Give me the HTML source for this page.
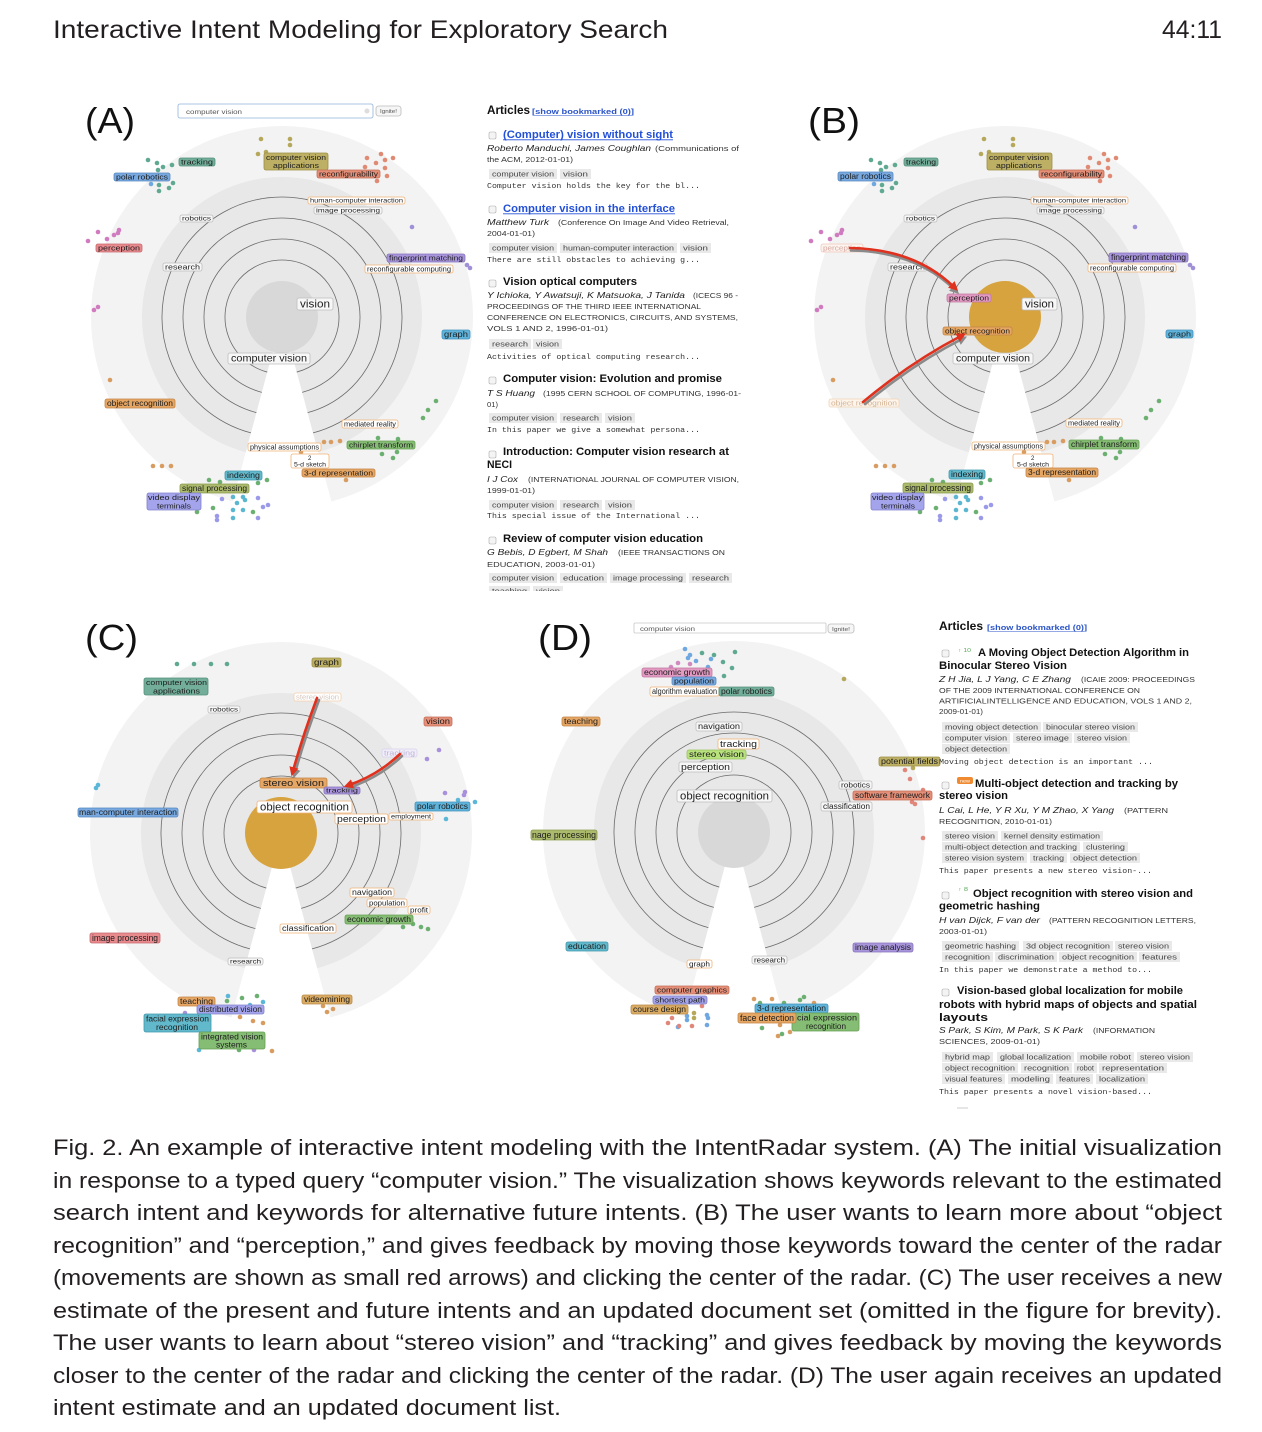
<!DOCTYPE html>
<html><head><meta charset="utf-8">
<style>
html,body{margin:0;padding:0;background:#fff}
svg{display:block}
text{font-family:"Liberation Sans",sans-serif;fill:#1e1e1e}
.mono{font-family:"Liberation Mono",monospace;fill:#333}
.d1{fill:#f3f3f3}.d2{fill:#e8e8e8}.rg{fill:none;stroke:#6a6a6a;stroke-width:.8}
.tl{fill:#72ae99;stroke:#53907b}.bl{fill:#78a9e0;stroke:#5688c0}.ol{fill:#bdb064;stroke:#9c8f44}
.sa{fill:#e58f78;stroke:#c46d58}.pk{fill:#e88a8e;stroke:#c7686c}.pu{fill:#a895dc;stroke:#8673bb}
.b2{fill:#60b4dc;stroke:#4092bc}.or{fill:#e6a664;stroke:#c48444}.gr{fill:#86bd74;stroke:#64a052}
.tb{fill:#62b9cc;stroke:#4298ac}.og{fill:#abba6c;stroke:#8a9a4c}.lv{fill:#a4a4ec;stroke:#8282cc}
.mg{fill:#e39ac2;stroke:#c178a0}.lg{fill:#b8e27c;stroke:#98c25c}.tn{fill:#d9ab64;stroke:#b88a44}
.wo{fill:#fff;stroke:#f0b277}.wg{fill:#f7f7f7;stroke:#bdbdbd}
rect{stroke-width:.8}
.tag{fill:#e9e9e9;stroke:none}
.tg{font-size:7px;fill:#444}
.au{font-size:8.5px;font-style:italic;fill:#222}
.vn{font-size:7px;fill:#333}
.ti{font-size:11px;font-weight:bold;fill:#111}
.tib{font-size:11px;font-weight:bold;fill:#2350d8}
.cb{fill:#f4f4f4;stroke:#aaa;stroke-width:.6}
.cap{font-size:22px;fill:#231f20}
</style></head><body>
<svg width="1262" height="1432" viewBox="0 0 1262 1432" xmlns="http://www.w3.org/2000/svg">
<defs>
<g id="rad">
<path class="d1" d="M0,0 L49.43,184.49 A191,191 0 1 0 -49.43,184.49 Z"/>
<path class="d2" d="M0,0 L36.23,135.23 A140,140 0 1 0 -36.23,135.23 Z"/>
<path class="rg" d="M31.06,115.91 A120,120 0 1 0 -31.06,115.91"/>
<path class="rg" d="M25.62,95.62 A99,99 0 1 0 -25.62,95.62"/>
<path class="rg" d="M20.19,75.34 A78,78 0 1 0 -20.19,75.34"/>
<path class="rg" d="M14.75,55.06 A57,57 0 1 0 -14.75,55.06"/>
</g>
<marker id="ah" viewBox="0 0 10 10" refX="4" refY="5" markerWidth="3.6" markerHeight="3.6" orient="auto" markerUnits="strokeWidth"><path d="M0,0 L10,5 L0,10 z" fill="#e0301e"/></marker>
<marker id="ahs" viewBox="0 0 10 10" refX="4" refY="5" markerWidth="3.6" markerHeight="3.6" orient="auto" markerUnits="strokeWidth"><path d="M0,0 L10,5 L0,10 z" fill="#8a8a8a"/></marker>
<clipPath id="clipA"><rect x="480" y="90" width="270" height="501"/></clipPath>
</defs>

<!-- Header -->
<text x="53" y="38" font-size="25" textLength="615" lengthAdjust="spacingAndGlyphs" style="fill:#231f20">Interactive Intent Modeling for Exploratory Search</text>
<text x="1162" y="38" font-size="25" textLength="60" lengthAdjust="spacingAndGlyphs" style="fill:#231f20">44:11</text>

<!-- ================= PANEL A ================= -->
<text x="85" y="133" font-size="36" textLength="50" lengthAdjust="spacingAndGlyphs" style="fill:#111">(A)</text>
<rect x="178" y="104" width="195" height="14" rx="2" fill="#fff" stroke="#8fb2dc" stroke-width="1.2"/>
<text x="186" y="114" font-size="6.5" textLength="56" lengthAdjust="spacingAndGlyphs" style="fill:#555">computer vision</text>
<circle cx="367" cy="111" r="2.5" fill="#ddd"/>
<rect x="376" y="106" width="25" height="10" rx="2.5" fill="#f6f6f6" stroke="#bbb" stroke-width=".6"/>
<text x="380" y="113" font-size="5" textLength="17" lengthAdjust="spacingAndGlyphs" style="fill:#555">Ignite!</text>
<use href="#rad" x="282" y="317"/>
<circle cx="282" cy="317" r="36" fill="#d8d8d8"/>

<g>
<g fill="#b5a85a"><circle cx="261" cy="139" r="2.3"/><circle cx="290" cy="139" r="2.3"/><circle cx="290" cy="145" r="2.3"/><circle cx="266" cy="152" r="2.3"/><circle cx="258" cy="154" r="2.3"/></g>
<g fill="#e08a74"><circle cx="367" cy="158" r="2.3"/><circle cx="381" cy="154" r="2.3"/><circle cx="393" cy="158" r="2.3"/><circle cx="376" cy="163" r="2.3"/><circle cx="385" cy="160" r="2.3"/><circle cx="365" cy="167" r="2.3"/><circle cx="385" cy="168" r="2.3"/><circle cx="387" cy="176" r="2.3"/><circle cx="377" cy="181" r="2.3"/></g>
<g fill="#5fa892"><circle cx="148" cy="160" r="2.3"/><circle cx="157" cy="163" r="2.3"/><circle cx="163" cy="167" r="2.3"/><circle cx="172" cy="165" r="2.3"/><circle cx="158" cy="170" r="2.3"/><circle cx="168" cy="175" r="2.3"/><circle cx="173" cy="183" r="2.3"/><circle cx="159" cy="185" r="2.3"/><circle cx="169" cy="188" r="2.3"/><circle cx="159" cy="191" r="2.3"/></g>
<circle cx="151" cy="184" r="2.3" fill="#6fa8e0"/>
<g fill="#d07ac0"><circle cx="98" cy="232" r="2.3"/><circle cx="88" cy="241" r="2.3"/><circle cx="107" cy="239" r="2.3"/><circle cx="114" cy="235" r="2.3"/><circle cx="119" cy="230" r="2.3"/><circle cx="118" cy="233" r="2.3"/><circle cx="94" cy="310" r="2.3"/><circle cx="98" cy="307" r="2.3"/></g>
<g fill="#a090d8"><circle cx="412" cy="227" r="2.3"/><circle cx="467" cy="265" r="2.3"/><circle cx="470" cy="268" r="2.3"/></g>
<g fill="#d99c60"><circle cx="110" cy="380" r="2.3"/><circle cx="324" cy="442" r="2.3"/><circle cx="331" cy="442" r="2.3"/><circle cx="340" cy="441" r="2.3"/><circle cx="153" cy="466" r="2.3"/><circle cx="162" cy="466" r="2.3"/><circle cx="171" cy="466" r="2.3"/><circle cx="301" cy="452" r="2.3"/><circle cx="346" cy="480" r="2.3"/></g>
<g fill="#6bb070"><circle cx="436" cy="401" r="2.3"/><circle cx="428" cy="410" r="2.3"/><circle cx="423" cy="418" r="2.3"/><circle cx="378" cy="438" r="2.3"/><circle cx="398" cy="439" r="2.3"/><circle cx="382" cy="454" r="2.3"/><circle cx="397" cy="452" r="2.3"/><circle cx="393" cy="458" r="2.3"/><circle cx="209" cy="480" r="2.3"/><circle cx="220" cy="482" r="2.3"/><circle cx="267" cy="480" r="2.3"/><circle cx="258" cy="483" r="2.3"/><circle cx="197" cy="512" r="2.3"/><circle cx="213" cy="508" r="2.3"/><circle cx="253" cy="512" r="2.3"/></g>
<g fill="#5bb7d0"><circle cx="233" cy="497" r="2.3"/><circle cx="243" cy="497" r="2.3"/><circle cx="245" cy="500" r="2.3"/><circle cx="237" cy="503" r="2.3"/><circle cx="233" cy="510" r="2.3"/><circle cx="243" cy="510" r="2.3"/><circle cx="233" cy="518" r="2.3"/></g>
<g fill="#9a9ae8"><circle cx="222" cy="499" r="2.3"/><circle cx="258" cy="498" r="2.3"/><circle cx="263" cy="507" r="2.3"/><circle cx="268" cy="505" r="2.3"/><circle cx="217" cy="516" r="2.3"/><circle cx="217" cy="520" r="2.3"/><circle cx="258" cy="518" r="2.3"/></g>
</g>

<g>
<rect class="tl" x="179" y="158" width="36" height="8" rx="2"/><text x="181" y="164.3" font-size="7.2" textLength="32" lengthAdjust="spacingAndGlyphs">tracking</text>
<rect class="bl" x="114" y="173" width="56" height="8" rx="2"/><text x="116" y="179.3" font-size="7.2" textLength="52" lengthAdjust="spacingAndGlyphs">polar robotics</text>
<rect class="ol" x="264" y="153" width="64" height="17" rx="2"/><text x="266" y="160" font-size="7" textLength="60" lengthAdjust="spacingAndGlyphs">computer vision</text><text x="273" y="168" font-size="7" textLength="46" lengthAdjust="spacingAndGlyphs">applications</text>
<rect class="sa" x="317" y="170" width="63" height="8" rx="2"/><text x="319" y="176.3" font-size="7.2" textLength="59" lengthAdjust="spacingAndGlyphs">reconfigurability</text>
<rect class="wo" x="308" y="197" width="97" height="7" rx="2"/><text x="310" y="202.6" font-size="6.3" textLength="93" lengthAdjust="spacingAndGlyphs">human-computer interaction</text>
<rect class="wg" x="314" y="207" width="68" height="7" rx="2"/><text x="316" y="212.6" font-size="6.3" textLength="64" lengthAdjust="spacingAndGlyphs">image processing</text>
<rect class="wg" x="180" y="215" width="33" height="7" rx="2"/><text x="182" y="220.6" font-size="6.3" textLength="29" lengthAdjust="spacingAndGlyphs">robotics</text>
<rect class="pk" x="96" y="244" width="46" height="8" rx="2"/><text x="98" y="250.3" font-size="7.2" textLength="42" lengthAdjust="spacingAndGlyphs">perception</text>
<rect class="wg" x="163" y="263" width="39" height="8" rx="2"/><text x="165" y="269.3" font-size="7.2" textLength="35" lengthAdjust="spacingAndGlyphs">research</text>
<rect class="pu" x="387" y="254" width="78" height="8" rx="2"/><text x="389" y="260.3" font-size="7.2" textLength="74" lengthAdjust="spacingAndGlyphs">fingerprint matching</text>
<rect class="wo" x="365" y="265" width="88" height="8" rx="2"/><text x="367" y="271.3" font-size="7.2" textLength="84" lengthAdjust="spacingAndGlyphs">reconfigurable computing</text>
<rect class="wg" x="297" y="298" width="36" height="12" rx="2"/><text x="300" y="307.4" font-size="10.8" textLength="30" lengthAdjust="spacingAndGlyphs">vision</text>
<rect class="b2" x="442" y="330" width="28" height="9" rx="2"/><text x="444" y="337" font-size="8" textLength="24" lengthAdjust="spacingAndGlyphs">graph</text>
<rect class="wg" x="228" y="353" width="82" height="11" rx="2"/><text x="231" y="361.6" font-size="9.8" textLength="76" lengthAdjust="spacingAndGlyphs">computer vision</text>
<rect class="or" x="105" y="399" width="70" height="9" rx="2"/><text x="107" y="406" font-size="8" textLength="66" lengthAdjust="spacingAndGlyphs">object recognition</text>
<rect class="wo" x="342" y="420" width="56" height="8" rx="2"/><text x="344" y="426.3" font-size="7.2" textLength="52" lengthAdjust="spacingAndGlyphs">mediated reality</text>
<rect class="wo" x="248" y="443" width="73" height="8" rx="2"/><text x="250" y="449.3" font-size="7.2" textLength="69" lengthAdjust="spacingAndGlyphs">physical assumptions</text>
<rect class="gr" x="347" y="441" width="68" height="8" rx="2"/><text x="349" y="447.3" font-size="7.2" textLength="64" lengthAdjust="spacingAndGlyphs">chirplet transform</text>
<rect class="wo" x="291" y="454" width="38" height="14" rx="2"/><text x="308" y="460" font-size="6">2</text><text x="294" y="466.5" font-size="6.5" textLength="32" lengthAdjust="spacingAndGlyphs">5-d sketch</text>
<rect class="or" x="302" y="469" width="73" height="8" rx="2"/><text x="304" y="475.3" font-size="7.2" textLength="69" lengthAdjust="spacingAndGlyphs">3-d representation</text>
<rect class="tb" x="225" y="471" width="37" height="9" rx="2"/><text x="227" y="478" font-size="8" textLength="33" lengthAdjust="spacingAndGlyphs">indexing</text>
<rect class="og" x="180" y="484" width="69" height="9" rx="2"/><text x="182" y="491" font-size="8" textLength="65" lengthAdjust="spacingAndGlyphs">signal processing</text>
<rect class="lv" x="147" y="493" width="54" height="17" rx="2"/><text x="148" y="500" font-size="7.5" textLength="52" lengthAdjust="spacingAndGlyphs">video display</text><text x="157" y="508.5" font-size="7.5" textLength="34" lengthAdjust="spacingAndGlyphs">terminals</text>
</g>

<!-- Articles A -->
<g clip-path="url(#clipA)">
<text x="487" y="114" font-size="12" font-weight="bold" textLength="43" lengthAdjust="spacingAndGlyphs" style="fill:#111">Articles</text>
<text x="532" y="114" font-size="7.5" font-weight="bold" textLength="102" lengthAdjust="spacingAndGlyphs" style="fill:#2b54c8">[show bookmarked (0)]</text>
<line x1="535" y1="115.5" x2="631" y2="115.5" stroke="#2b54c8" stroke-width=".6"/>

<rect class="cb" x="489" y="132" width="7" height="7" rx="1.5"/>
<text class="tib" x="503" y="138" textLength="170" lengthAdjust="spacingAndGlyphs">(Computer) vision without sight</text>
<line x1="503" y1="139.8" x2="673" y2="139.8" stroke="#2350d8" stroke-width=".8"/>
<text class="au" x="487" y="151" textLength="164" lengthAdjust="spacingAndGlyphs">Roberto Manduchi, James Coughlan</text>
<text class="vn" x="655" y="151" textLength="84" lengthAdjust="spacingAndGlyphs">(Communications of</text>
<text class="vn" x="487" y="162" textLength="86" lengthAdjust="spacingAndGlyphs">the ACM, 2012-01-01)</text>
<rect class="tag" x="489" y="169" width="68" height="10"/><text class="tg" x="492" y="176.5" textLength="62" lengthAdjust="spacingAndGlyphs">computer vision</text>
<rect class="tag" x="560" y="169" width="31" height="10"/><text class="tg" x="563" y="176.5" textLength="25" lengthAdjust="spacingAndGlyphs">vision</text>
<text class="mono" x="487" y="188" font-size="7.5" textLength="213" lengthAdjust="spacingAndGlyphs">Computer vision holds the key for the bl...</text>

<rect class="cb" x="489" y="206" width="7" height="7" rx="1.5"/>
<text class="tib" x="503" y="212" textLength="172" lengthAdjust="spacingAndGlyphs">Computer vision in the interface</text>
<line x1="503" y1="213.8" x2="675" y2="213.8" stroke="#2350d8" stroke-width=".8"/>
<text class="au" x="487" y="225" textLength="62" lengthAdjust="spacingAndGlyphs">Matthew Turk</text>
<text class="vn" x="558" y="225" textLength="171" lengthAdjust="spacingAndGlyphs">(Conference On Image And Video Retrieval,</text>
<text class="vn" x="487" y="236" textLength="48" lengthAdjust="spacingAndGlyphs">2004-01-01)</text>
<rect class="tag" x="489" y="243" width="68" height="10"/><text class="tg" x="492" y="250.5" textLength="62" lengthAdjust="spacingAndGlyphs">computer vision</text>
<rect class="tag" x="560" y="243" width="117" height="10"/><text class="tg" x="563" y="250.5" textLength="111" lengthAdjust="spacingAndGlyphs">human-computer interaction</text>
<rect class="tag" x="680" y="243" width="31" height="10"/><text class="tg" x="683" y="250.5" textLength="25" lengthAdjust="spacingAndGlyphs">vision</text>
<text class="mono" x="487" y="262" font-size="7.5" textLength="213" lengthAdjust="spacingAndGlyphs">There are still obstacles to achieving g...</text>

<rect class="cb" x="489" y="280" width="7" height="7" rx="1.5"/>
<text class="ti" x="503" y="285" textLength="134" lengthAdjust="spacingAndGlyphs">Vision optical computers</text>
<text class="au" x="487" y="298" textLength="198" lengthAdjust="spacingAndGlyphs">Y Ichioka, Y Awatsuji, K Matsuoka, J Tanida</text>
<text class="vn" x="693" y="298" textLength="45" lengthAdjust="spacingAndGlyphs">(ICECS 96 -</text>
<text class="vn" x="487" y="309" textLength="214" lengthAdjust="spacingAndGlyphs">PROCEEDINGS OF THE THIRD IEEE INTERNATIONAL</text>
<text class="vn" x="487" y="320" textLength="251" lengthAdjust="spacingAndGlyphs">CONFERENCE ON ELECTRONICS, CIRCUITS, AND SYSTEMS,</text>
<text class="vn" x="487" y="331" textLength="121" lengthAdjust="spacingAndGlyphs">VOLS 1 AND 2, 1996-01-01)</text>
<rect class="tag" x="489" y="339" width="42" height="10"/><text class="tg" x="492" y="346.5" textLength="36" lengthAdjust="spacingAndGlyphs">research</text>
<rect class="tag" x="533" y="339" width="29" height="10"/><text class="tg" x="536" y="346.5" textLength="23" lengthAdjust="spacingAndGlyphs">vision</text>
<text class="mono" x="487" y="359" font-size="7.5" textLength="213" lengthAdjust="spacingAndGlyphs">Activities of optical computing research...</text>

<rect class="cb" x="489" y="377" width="7" height="7" rx="1.5"/>
<text class="ti" x="503" y="382" textLength="219" lengthAdjust="spacingAndGlyphs">Computer vision: Evolution and promise</text>
<text class="au" x="487" y="396" textLength="48" lengthAdjust="spacingAndGlyphs">T S Huang</text>
<text class="vn" x="543" y="396" textLength="198" lengthAdjust="spacingAndGlyphs">(1995 CERN SCHOOL OF COMPUTING, 1996-01-</text>
<text class="vn" x="487" y="407" textLength="11" lengthAdjust="spacingAndGlyphs">01)</text>
<rect class="tag" x="489" y="413" width="68" height="10"/><text class="tg" x="492" y="420.5" textLength="62" lengthAdjust="spacingAndGlyphs">computer vision</text>
<rect class="tag" x="560" y="413" width="42" height="10"/><text class="tg" x="563" y="420.5" textLength="36" lengthAdjust="spacingAndGlyphs">research</text>
<rect class="tag" x="605" y="413" width="30" height="10"/><text class="tg" x="608" y="420.5" textLength="24" lengthAdjust="spacingAndGlyphs">vision</text>
<text class="mono" x="487" y="432" font-size="7.5" textLength="213" lengthAdjust="spacingAndGlyphs">In this paper we give a somewhat persona...</text>

<rect class="cb" x="489" y="451" width="7" height="7" rx="1.5"/>
<text class="ti" x="503" y="455" textLength="226" lengthAdjust="spacingAndGlyphs">Introduction: Computer vision research at</text>
<text class="ti" x="487" y="468" textLength="25" lengthAdjust="spacingAndGlyphs">NECI</text>
<text class="au" x="487" y="482" textLength="31" lengthAdjust="spacingAndGlyphs">I J Cox</text>
<text class="vn" x="528" y="482" textLength="211" lengthAdjust="spacingAndGlyphs">(INTERNATIONAL JOURNAL OF COMPUTER VISION,</text>
<text class="vn" x="487" y="493" textLength="48" lengthAdjust="spacingAndGlyphs">1999-01-01)</text>
<rect class="tag" x="489" y="500" width="68" height="10"/><text class="tg" x="492" y="507.5" textLength="62" lengthAdjust="spacingAndGlyphs">computer vision</text>
<rect class="tag" x="560" y="500" width="42" height="10"/><text class="tg" x="563" y="507.5" textLength="36" lengthAdjust="spacingAndGlyphs">research</text>
<rect class="tag" x="605" y="500" width="30" height="10"/><text class="tg" x="608" y="507.5" textLength="24" lengthAdjust="spacingAndGlyphs">vision</text>
<text class="mono" x="487" y="518" font-size="7.5" textLength="213" lengthAdjust="spacingAndGlyphs">This special issue of the International ...</text>

<rect class="cb" x="489" y="537" width="7" height="7" rx="1.5"/>
<text class="ti" x="503" y="542" textLength="200" lengthAdjust="spacingAndGlyphs">Review of computer vision education</text>
<text class="au" x="487" y="555" textLength="121" lengthAdjust="spacingAndGlyphs">G Bebis, D Egbert, M Shah</text>
<text class="vn" x="618" y="555" textLength="107" lengthAdjust="spacingAndGlyphs">(IEEE TRANSACTIONS ON</text>
<text class="vn" x="487" y="567" textLength="108" lengthAdjust="spacingAndGlyphs">EDUCATION, 2003-01-01)</text>
<rect class="tag" x="489" y="573" width="68" height="10"/><text class="tg" x="492" y="580.5" textLength="62" lengthAdjust="spacingAndGlyphs">computer vision</text>
<rect class="tag" x="560" y="573" width="47" height="10"/><text class="tg" x="563" y="580.5" textLength="41" lengthAdjust="spacingAndGlyphs">education</text>
<rect class="tag" x="610" y="573" width="76" height="10"/><text class="tg" x="613" y="580.5" textLength="70" lengthAdjust="spacingAndGlyphs">image processing</text>
<rect class="tag" x="689" y="573" width="43" height="10"/><text class="tg" x="692" y="580.5" textLength="37" lengthAdjust="spacingAndGlyphs">research</text>
<rect class="tag" x="489" y="586" width="41" height="10"/><text class="tg" x="492" y="593.5" textLength="35" lengthAdjust="spacingAndGlyphs">teaching</text>
<rect class="tag" x="533" y="586" width="30" height="10"/><text class="tg" x="536" y="593.5" textLength="24" lengthAdjust="spacingAndGlyphs">vision</text>
</g>

<!-- ================= PANEL B ================= -->
<text x="808" y="133" font-size="36" textLength="52" lengthAdjust="spacingAndGlyphs" style="fill:#111">(B)</text>
<use href="#rad" x="1005" y="317"/>

<g transform="translate(723,0)">
<g fill="#b5a85a"><circle cx="261" cy="139" r="2.3"/><circle cx="290" cy="139" r="2.3"/><circle cx="290" cy="145" r="2.3"/><circle cx="266" cy="152" r="2.3"/><circle cx="258" cy="154" r="2.3"/></g>
<g fill="#e08a74"><circle cx="367" cy="158" r="2.3"/><circle cx="381" cy="154" r="2.3"/><circle cx="393" cy="158" r="2.3"/><circle cx="376" cy="163" r="2.3"/><circle cx="385" cy="160" r="2.3"/><circle cx="365" cy="167" r="2.3"/><circle cx="385" cy="168" r="2.3"/><circle cx="387" cy="176" r="2.3"/><circle cx="377" cy="181" r="2.3"/></g>
<g fill="#5fa892"><circle cx="148" cy="160" r="2.3"/><circle cx="157" cy="163" r="2.3"/><circle cx="163" cy="167" r="2.3"/><circle cx="172" cy="165" r="2.3"/><circle cx="158" cy="170" r="2.3"/><circle cx="168" cy="175" r="2.3"/><circle cx="173" cy="183" r="2.3"/><circle cx="159" cy="185" r="2.3"/><circle cx="169" cy="188" r="2.3"/><circle cx="159" cy="191" r="2.3"/></g>
<circle cx="151" cy="184" r="2.3" fill="#6fa8e0"/>
<g fill="#d07ac0"><circle cx="98" cy="232" r="2.3"/><circle cx="88" cy="241" r="2.3"/><circle cx="107" cy="239" r="2.3"/><circle cx="114" cy="235" r="2.3"/><circle cx="119" cy="230" r="2.3"/><circle cx="118" cy="233" r="2.3"/><circle cx="94" cy="310" r="2.3"/><circle cx="98" cy="307" r="2.3"/></g>
<g fill="#a090d8"><circle cx="412" cy="227" r="2.3"/><circle cx="467" cy="265" r="2.3"/><circle cx="470" cy="268" r="2.3"/></g>
<g fill="#d99c60"><circle cx="110" cy="380" r="2.3"/><circle cx="324" cy="442" r="2.3"/><circle cx="331" cy="442" r="2.3"/><circle cx="340" cy="441" r="2.3"/><circle cx="153" cy="466" r="2.3"/><circle cx="162" cy="466" r="2.3"/><circle cx="171" cy="466" r="2.3"/><circle cx="301" cy="452" r="2.3"/><circle cx="346" cy="480" r="2.3"/></g>
<g fill="#6bb070"><circle cx="436" cy="401" r="2.3"/><circle cx="428" cy="410" r="2.3"/><circle cx="423" cy="418" r="2.3"/><circle cx="378" cy="438" r="2.3"/><circle cx="398" cy="439" r="2.3"/><circle cx="382" cy="454" r="2.3"/><circle cx="397" cy="452" r="2.3"/><circle cx="393" cy="458" r="2.3"/><circle cx="209" cy="480" r="2.3"/><circle cx="220" cy="482" r="2.3"/><circle cx="267" cy="480" r="2.3"/><circle cx="258" cy="483" r="2.3"/><circle cx="197" cy="512" r="2.3"/><circle cx="213" cy="508" r="2.3"/><circle cx="253" cy="512" r="2.3"/></g>
<g fill="#5bb7d0"><circle cx="233" cy="497" r="2.3"/><circle cx="243" cy="497" r="2.3"/><circle cx="245" cy="500" r="2.3"/><circle cx="237" cy="503" r="2.3"/><circle cx="233" cy="510" r="2.3"/><circle cx="243" cy="510" r="2.3"/><circle cx="233" cy="518" r="2.3"/></g>
<g fill="#9a9ae8"><circle cx="222" cy="499" r="2.3"/><circle cx="258" cy="498" r="2.3"/><circle cx="263" cy="507" r="2.3"/><circle cx="268" cy="505" r="2.3"/><circle cx="217" cy="516" r="2.3"/><circle cx="217" cy="520" r="2.3"/><circle cx="258" cy="518" r="2.3"/></g>
</g>

<g>
<rect class="tl" x="904" y="158" width="34" height="8" rx="2"/><text x="906" y="164.3" font-size="7.2" textLength="30" lengthAdjust="spacingAndGlyphs">tracking</text>
<rect class="bl" x="838" y="172" width="55" height="9" rx="2"/><text x="840" y="179" font-size="8" textLength="51" lengthAdjust="spacingAndGlyphs">polar robotics</text>
<rect class="ol" x="987" y="153" width="65" height="17" rx="2"/><text x="989" y="160" font-size="7" textLength="60" lengthAdjust="spacingAndGlyphs">computer vision</text><text x="996" y="168" font-size="7" textLength="46" lengthAdjust="spacingAndGlyphs">applications</text>
<rect class="sa" x="1039" y="170" width="65" height="8" rx="2"/><text x="1041" y="176.3" font-size="7.2" textLength="61" lengthAdjust="spacingAndGlyphs">reconfigurability</text>
<rect class="wo" x="1031" y="197" width="97" height="7" rx="2"/><text x="1033" y="202.6" font-size="6.3" textLength="93" lengthAdjust="spacingAndGlyphs">human-computer interaction</text>
<rect class="wg" x="1037" y="207" width="67" height="7" rx="2"/><text x="1039" y="212.6" font-size="6.3" textLength="63" lengthAdjust="spacingAndGlyphs">image processing</text>
<rect class="wg" x="904" y="215" width="33" height="7" rx="2"/><text x="906" y="220.6" font-size="6.3" textLength="29" lengthAdjust="spacingAndGlyphs">robotics</text>
<rect x="821" y="244" width="42" height="8" rx="2" fill="#fdf3ef" stroke="#efc9bd"/><text x="823" y="250.3" font-size="7.2" textLength="38" lengthAdjust="spacingAndGlyphs" style="fill:#d7a9a0">perception</text>
<rect class="wg" x="888" y="263" width="39" height="8" rx="2"/><text x="890" y="269.3" font-size="7.2" textLength="35" lengthAdjust="spacingAndGlyphs">research</text>
<rect class="pu" x="1109" y="253" width="79" height="9" rx="2"/><text x="1111" y="260" font-size="8" textLength="75" lengthAdjust="spacingAndGlyphs">fingerprint matching</text>
<rect class="wo" x="1088" y="264" width="88" height="8" rx="2"/><text x="1090" y="270.3" font-size="7.2" textLength="84" lengthAdjust="spacingAndGlyphs">reconfigurable computing</text>
<rect class="b2" x="1166" y="330" width="27" height="8" rx="2"/><text x="1168" y="336.3" font-size="7.2" textLength="23" lengthAdjust="spacingAndGlyphs">graph</text>
<rect x="829" y="399" width="70" height="8" rx="2" fill="#fdf5ec" stroke="#f0d3b4"/><text x="831" y="405.3" font-size="7.2" textLength="66" lengthAdjust="spacingAndGlyphs" style="fill:#d4b394">object recognition</text>
<rect class="wo" x="1066" y="419" width="56" height="8" rx="2"/><text x="1068" y="425.3" font-size="7.2" textLength="52" lengthAdjust="spacingAndGlyphs">mediated reality</text>
<rect class="wo" x="972" y="442" width="73" height="8" rx="2"/><text x="974" y="448.3" font-size="7.2" textLength="69" lengthAdjust="spacingAndGlyphs">physical assumptions</text>
<rect class="gr" x="1069" y="440" width="70" height="9" rx="2"/><text x="1071" y="447" font-size="8" textLength="66" lengthAdjust="spacingAndGlyphs">chirplet transform</text>
<rect class="wo" x="1013" y="454" width="40" height="14" rx="2"/><text x="1031" y="460" font-size="6">2</text><text x="1017" y="466.5" font-size="6.5" textLength="32" lengthAdjust="spacingAndGlyphs">5-d sketch</text>
<rect class="or" x="1026" y="468" width="72" height="9" rx="2"/><text x="1028" y="475" font-size="8" textLength="68" lengthAdjust="spacingAndGlyphs">3-d representation</text>
<rect class="tb" x="949" y="470" width="36" height="9" rx="2"/><text x="951" y="477" font-size="8" textLength="32" lengthAdjust="spacingAndGlyphs">indexing</text>
<rect class="og" x="903" y="483" width="70" height="10" rx="2"/><text x="905" y="490.8" font-size="8.8" textLength="66" lengthAdjust="spacingAndGlyphs">signal processing</text>
<rect class="lv" x="871" y="493" width="53" height="17" rx="2"/><text x="872" y="500" font-size="7.5" textLength="51" lengthAdjust="spacingAndGlyphs">video display</text><text x="881" y="508.5" font-size="7.5" textLength="34" lengthAdjust="spacingAndGlyphs">terminals</text>
</g>
<circle cx="1005" cy="317" r="36" fill="#d6a33f"/>
<rect class="wg" x="1022" y="298" width="35" height="12" rx="2"/><text x="1025" y="307.4" font-size="10.8" textLength="29" lengthAdjust="spacingAndGlyphs">vision</text>
<rect class="wg" x="953" y="353" width="80" height="11" rx="2"/><text x="956" y="361.6" font-size="9.8" textLength="74" lengthAdjust="spacingAndGlyphs">computer vision</text>
<rect class="mg" x="947" y="294" width="44" height="8" rx="2"/><text x="949" y="300.3" font-size="7.2" textLength="40" lengthAdjust="spacingAndGlyphs">perception</text>
<rect class="or" x="943" y="327" width="69" height="8" rx="2"/><text x="945" y="333.3" font-size="7.2" textLength="65" lengthAdjust="spacingAndGlyphs">object recognition</text>
<!-- arrows B -->
<g fill="none" stroke-linecap="round">
<path d="M851,250.5 Q916,251.5 955,290" stroke="#8a8a8a" stroke-width="2.6" marker-end="url(#ahs)"/>
<path d="M850,248 Q915,249 954,287" stroke="#e0301e" stroke-width="2.6" marker-end="url(#ah)"/>
<path d="M865,404 Q913,364 962,339" stroke="#8a8a8a" stroke-width="2.6" marker-end="url(#ahs)"/>
<path d="M863,402 Q911,362 961,336" stroke="#e0301e" stroke-width="2.6" marker-end="url(#ah)"/>
</g>

<!-- ================= PANEL C ================= -->
<text x="85" y="650" font-size="36" textLength="53" lengthAdjust="spacingAndGlyphs" style="fill:#111">(C)</text>
<use href="#rad" x="281" y="833"/>
<circle cx="281" cy="833" r="36" fill="#d6a33f"/>
<g>
<g fill="#5fa892"><circle cx="177" cy="664" r="2.3"/><circle cx="194" cy="664" r="2.3"/><circle cx="211" cy="664" r="2.3"/><circle cx="227" cy="664" r="2.3"/></g>
<g fill="#a890dc"><circle cx="439" cy="750" r="2.3"/><circle cx="427" cy="759" r="2.3"/><circle cx="445" cy="793" r="2.3"/><circle cx="464" cy="795" r="2.3"/><circle cx="465" cy="792" r="2.3"/><circle cx="185" cy="1013" r="2.3"/><circle cx="254" cy="1050" r="2.3"/></g>
<g fill="#5bb7d8"><circle cx="458" cy="800" r="2.3"/><circle cx="475" cy="802" r="2.3"/><circle cx="446" cy="819" r="2.3"/><circle cx="98" cy="785" r="2.3"/><circle cx="96" cy="788" r="2.3"/><circle cx="228" cy="996" r="2.3"/><circle cx="263" cy="1002" r="2.3"/><circle cx="250" cy="1005" r="2.3"/><circle cx="199" cy="1050" r="2.3"/></g>
<g fill="#6bb070"><circle cx="403" cy="927" r="2.3"/><circle cx="413" cy="924" r="2.3"/><circle cx="421" cy="927" r="2.3"/><circle cx="428" cy="929" r="2.3"/><circle cx="227" cy="1001" r="2.3"/><circle cx="242" cy="998" r="2.3"/><circle cx="257" cy="996" r="2.3"/><circle cx="239" cy="1050" r="2.3"/></g>
<g fill="#d99c60"><circle cx="323" cy="1006" r="2.3"/><circle cx="333" cy="1009" r="2.3"/><circle cx="327" cy="1012" r="2.3"/><circle cx="240" cy="1017" r="2.3"/><circle cx="253" cy="1021" r="2.3"/><circle cx="263" cy="1023" r="2.3"/><circle cx="272" cy="1051" r="2.3"/></g>
</g>
<g>
<rect class="ol" x="312" y="658" width="29" height="9" rx="2"/><text x="314" y="665" font-size="8" textLength="25" lengthAdjust="spacingAndGlyphs">graph</text>
<rect class="tl" x="144" y="678" width="64" height="17" rx="2"/><text x="146" y="685" font-size="7" textLength="61" lengthAdjust="spacingAndGlyphs">computer vision</text><text x="153" y="693.5" font-size="7" textLength="47" lengthAdjust="spacingAndGlyphs">applications</text>
<rect x="294" y="693" width="47" height="8" rx="2" fill="#fff" stroke="#f3cfae"/><text x="296" y="699.3" font-size="7.2" textLength="43" lengthAdjust="spacingAndGlyphs" style="fill:#d5c6bc">stereo vision</text>
<rect class="wg" x="208" y="706" width="32" height="7" rx="2"/><text x="210" y="711.6" font-size="6.3" textLength="28" lengthAdjust="spacingAndGlyphs">robotics</text>
<rect class="sa" x="424" y="717" width="28" height="9" rx="2"/><text x="426" y="724" font-size="8" textLength="24" lengthAdjust="spacingAndGlyphs">vision</text>
<rect x="382" y="749" width="35" height="8" rx="2" fill="#f1edf9" stroke="#d9d2ea"/><text x="384" y="755.3" font-size="7.2" textLength="31" lengthAdjust="spacingAndGlyphs" style="fill:#bdb5d6">tracking</text>
<rect class="bl" x="78" y="808" width="100" height="9" rx="2"/><text x="79" y="815" font-size="8" textLength="98" lengthAdjust="spacingAndGlyphs">man-computer interaction</text>
<rect class="b2" x="415" y="802" width="55" height="9" rx="2"/><text x="417" y="809" font-size="8" textLength="51" lengthAdjust="spacingAndGlyphs">polar robotics</text>
<rect class="or" x="260" y="778" width="67" height="10" rx="2"/><text x="263" y="785.8" font-size="8.8" textLength="61" lengthAdjust="spacingAndGlyphs">stereo vision</text>
<rect class="pu" x="324" y="787" width="36" height="7" rx="2"/><text x="326" y="792.6" font-size="6.3" textLength="32" lengthAdjust="spacingAndGlyphs">tracking</text>
<rect class="wo" x="257" y="801" width="95" height="12" rx="2"/><text x="260" y="810.4" font-size="10.8" textLength="89" lengthAdjust="spacingAndGlyphs">object recognition</text>
<rect class="wo" x="335" y="814" width="53" height="10" rx="2"/><text x="337" y="821.8" font-size="8.8" textLength="49" lengthAdjust="spacingAndGlyphs">perception</text>
<rect class="wo" x="389" y="813" width="44" height="7" rx="2"/><text x="391" y="818.6" font-size="6.3" textLength="40" lengthAdjust="spacingAndGlyphs">employment</text>
<rect class="wo" x="350" y="888" width="44" height="9" rx="2"/><text x="352" y="895" font-size="8" textLength="40" lengthAdjust="spacingAndGlyphs">navigation</text>
<rect class="wo" x="367" y="899" width="40" height="8" rx="2"/><text x="369" y="905.3" font-size="7.2" textLength="36" lengthAdjust="spacingAndGlyphs">population</text>
<rect class="wo" x="408" y="906" width="22" height="8" rx="2"/><text x="410" y="912.3" font-size="7.2" textLength="18" lengthAdjust="spacingAndGlyphs">profit</text>
<rect class="gr" x="345" y="915" width="68" height="9" rx="2"/><text x="347" y="922" font-size="8" textLength="64" lengthAdjust="spacingAndGlyphs">economic growth</text>
<rect class="wo" x="280" y="924" width="56" height="9" rx="2"/><text x="282" y="931" font-size="8" textLength="52" lengthAdjust="spacingAndGlyphs">classification</text>
<rect class="pk" x="90" y="933" width="70" height="10" rx="2"/><text x="92" y="940.8" font-size="8.8" textLength="66" lengthAdjust="spacingAndGlyphs">image processing</text>
<rect class="wg" x="228" y="958" width="35" height="7" rx="2"/><text x="230" y="963.6" font-size="6.3" textLength="31" lengthAdjust="spacingAndGlyphs">research</text>
<rect class="or" x="178" y="997" width="37" height="9" rx="2"/><text x="180" y="1004" font-size="8" textLength="33" lengthAdjust="spacingAndGlyphs">teaching</text>
<rect class="tn" x="302" y="995" width="50" height="9" rx="2"/><text x="304" y="1002" font-size="8" textLength="46" lengthAdjust="spacingAndGlyphs">videomining</text>
<rect class="lv" x="197" y="1005" width="67" height="9" rx="2"/><text x="199" y="1012" font-size="8" textLength="63" lengthAdjust="spacingAndGlyphs">distributed vision</text>
<rect class="tb" x="144" y="1014" width="67" height="18" rx="2"/><text x="146" y="1021.5" font-size="7.8" textLength="63" lengthAdjust="spacingAndGlyphs">facial expression</text><text x="156" y="1030" font-size="7.8" textLength="42" lengthAdjust="spacingAndGlyphs">recognition</text>
<rect class="gr" x="199" y="1032" width="66" height="17" rx="2"/><text x="201" y="1039.5" font-size="7.8" textLength="62" lengthAdjust="spacingAndGlyphs">integrated vision</text><text x="216" y="1047.5" font-size="7.8" textLength="31" lengthAdjust="spacingAndGlyphs">systems</text>
</g>
<g fill="none" stroke-linecap="round">
<path d="M319,700 Q304,740 295,773" stroke="#8a8a8a" stroke-width="2.6" marker-end="url(#ahs)"/>
<path d="M317,698 Q302,738 293,771" stroke="#e0301e" stroke-width="2.6" marker-end="url(#ah)"/>
<path d="M402,756 Q380,777 351,787" stroke="#8a8a8a" stroke-width="2.6" marker-end="url(#ahs)"/>
<path d="M400,754 Q378,775 349,785" stroke="#e0301e" stroke-width="2.6" marker-end="url(#ah)"/>
</g>

<!-- ================= PANEL D ================= -->
<text x="538" y="650" font-size="36" textLength="54" lengthAdjust="spacingAndGlyphs" style="fill:#111">(D)</text>
<rect x="634" y="623" width="192" height="10" rx="1" fill="#fff" stroke="#c8c8c8" stroke-width=".8"/>
<text x="640" y="631" font-size="6.5" textLength="55" lengthAdjust="spacingAndGlyphs" style="fill:#555">computer vision</text>
<rect x="828" y="624" width="26" height="9" rx="2.5" fill="#f6f6f6" stroke="#bbb" stroke-width=".6"/>
<text x="832" y="631" font-size="5" textLength="18" lengthAdjust="spacingAndGlyphs" style="fill:#555">Ignite!</text>
<use href="#rad" x="734" y="832"/>
<circle cx="734" cy="832" r="36" fill="#d8d8d8"/>
<g>
<g fill="#6fa8e0"><circle cx="685" cy="649" r="2.3"/><circle cx="690" cy="655" r="2.3"/><circle cx="688" cy="658" r="2.3"/><circle cx="696" cy="661" r="2.3"/><circle cx="708" cy="667" r="2.3"/><circle cx="711" cy="659" r="2.3"/><circle cx="687" cy="1016" r="2.3"/><circle cx="687" cy="1020" r="2.3"/><circle cx="707" cy="1015" r="2.3"/><circle cx="708" cy="1018" r="2.3"/><circle cx="707" cy="1025" r="2.3"/><circle cx="678" cy="1027" r="2.3"/></g>
<g fill="#5fa892"><circle cx="702" cy="653" r="2.3"/><circle cx="714" cy="655" r="2.3"/><circle cx="723" cy="662" r="2.3"/><circle cx="732" cy="668" r="2.3"/><circle cx="724" cy="676" r="2.3"/><circle cx="735" cy="652" r="2.3"/></g>
<g fill="#d08ac0"><circle cx="671" cy="667" r="2.3"/><circle cx="678" cy="663" r="2.3"/><circle cx="690" cy="664" r="2.3"/></g>
<g fill="#b5a85a"><circle cx="844" cy="679" r="2.3"/><circle cx="913" cy="768" r="2.3"/><circle cx="694" cy="1013" r="2.3"/><circle cx="694" cy="1018" r="2.3"/></g>
<g fill="#e0867a"><circle cx="905" cy="770" r="2.3"/><circle cx="910" cy="779" r="2.3"/><circle cx="923" cy="790" r="2.3"/><circle cx="915" cy="804" r="2.3"/><circle cx="912" cy="802" r="2.3"/><circle cx="923" cy="838" r="2.3"/><circle cx="668" cy="1023" r="2.3"/><circle cx="672" cy="1018" r="2.3"/><circle cx="679" cy="1026" r="2.3"/><circle cx="692" cy="1026" r="2.3"/><circle cx="702" cy="1006" r="2.3"/></g>
<g fill="#d99c60"><circle cx="754" cy="999" r="2.3"/><circle cx="772" cy="999" r="2.3"/><circle cx="814" cy="1003" r="2.3"/><circle cx="780" cy="1025" r="2.3"/><circle cx="790" cy="1032" r="2.3"/><circle cx="778" cy="1036" r="2.3"/></g>
<g fill="#6bb070"><circle cx="760" cy="1003" r="2.3"/><circle cx="784" cy="1003" r="2.3"/><circle cx="800" cy="1000" r="2.3"/><circle cx="804" cy="997" r="2.3"/><circle cx="762" cy="1028" r="2.3"/><circle cx="782" cy="1034" r="2.3"/></g>
</g>
<g>
<rect class="mg" x="642" y="668" width="70" height="9" rx="2"/><text x="644" y="675" font-size="8" textLength="66" lengthAdjust="spacingAndGlyphs">economic growth</text>
<rect class="bl" x="672" y="677" width="44" height="8" rx="2"/><text x="674" y="683.3" font-size="7.2" textLength="40" lengthAdjust="spacingAndGlyphs">population</text>
<rect class="wo" x="650" y="687" width="69" height="9" rx="2"/><text x="652" y="694" font-size="8" textLength="65" lengthAdjust="spacingAndGlyphs">algorithm evaluation</text>
<rect class="tl" x="719" y="687" width="55" height="9" rx="2"/><text x="721" y="694" font-size="8" textLength="51" lengthAdjust="spacingAndGlyphs">polar robotics</text>
<rect class="or" x="562" y="717" width="38" height="9" rx="2"/><text x="564" y="724" font-size="8" textLength="34" lengthAdjust="spacingAndGlyphs">teaching</text>
<rect class="wg" x="696" y="722" width="46" height="9" rx="2"/><text x="698" y="729" font-size="8" textLength="42" lengthAdjust="spacingAndGlyphs">navigation</text>
<rect class="wo" x="718" y="739" width="41" height="10" rx="2"/><text x="720" y="746.8" font-size="8.8" textLength="37" lengthAdjust="spacingAndGlyphs">tracking</text>
<rect class="lg" x="687" y="750" width="59" height="9" rx="2"/><text x="689" y="757" font-size="8" textLength="55" lengthAdjust="spacingAndGlyphs">stereo vision</text>
<rect class="wg" x="679" y="762" width="53" height="10" rx="2"/><text x="681" y="769.8" font-size="8.8" textLength="49" lengthAdjust="spacingAndGlyphs">perception</text>
<rect class="wg" x="677" y="790" width="95" height="12" rx="2"/><text x="680" y="799.4" font-size="10.8" textLength="89" lengthAdjust="spacingAndGlyphs">object recognition</text>
<rect class="wg" x="839" y="781" width="33" height="8" rx="2"/><text x="841" y="787.3" font-size="7.2" textLength="29" lengthAdjust="spacingAndGlyphs">robotics</text>
<rect class="sa" x="853" y="791" width="79" height="9" rx="2"/><text x="855" y="798" font-size="8" textLength="75" lengthAdjust="spacingAndGlyphs">software framework</text>
<rect class="wg" x="821" y="802" width="51" height="9" rx="2"/><text x="823" y="809" font-size="8" textLength="47" lengthAdjust="spacingAndGlyphs">classification</text>
<rect class="ol" x="879" y="757" width="61" height="9" rx="2"/><text x="881" y="764" font-size="8" textLength="57" lengthAdjust="spacingAndGlyphs">potential fields</text>
<rect class="og" x="531" y="830" width="66" height="10" rx="2"/><text x="532" y="837.8" font-size="8.8" textLength="64" lengthAdjust="spacingAndGlyphs">nage processing</text>
<rect class="tb" x="566" y="942" width="42" height="9" rx="2"/><text x="568" y="949" font-size="8" textLength="38" lengthAdjust="spacingAndGlyphs">education</text>
<rect class="pu" x="853" y="943" width="60" height="9" rx="2"/><text x="855" y="950" font-size="8" textLength="56" lengthAdjust="spacingAndGlyphs">image analysis</text>
<rect class="wo" x="687" y="960" width="25" height="8" rx="2"/><text x="689" y="966.3" font-size="7.2" textLength="21" lengthAdjust="spacingAndGlyphs">graph</text>
<rect class="wg" x="752" y="956" width="35" height="8" rx="2"/><text x="754" y="962.3" font-size="7.2" textLength="31" lengthAdjust="spacingAndGlyphs">research</text>
<rect class="sa" x="655" y="986" width="74" height="8" rx="2"/><text x="657" y="992.3" font-size="7.2" textLength="70" lengthAdjust="spacingAndGlyphs">computer graphics</text>
<rect class="lv" x="653" y="996" width="54" height="8" rx="2"/><text x="655" y="1002.3" font-size="7.2" textLength="50" lengthAdjust="spacingAndGlyphs">shortest path</text>
<rect class="tn" x="631" y="1005" width="57" height="9" rx="2"/><text x="633" y="1012" font-size="8" textLength="53" lengthAdjust="spacingAndGlyphs">course design</text>
<rect class="b2" x="755" y="1004" width="73" height="9" rx="2"/><text x="757" y="1011" font-size="8" textLength="69" lengthAdjust="spacingAndGlyphs">3-d representation</text>
<rect class="gr" x="792" y="1013" width="67" height="18" rx="2"/><text x="797" y="1020.5" font-size="7.8" textLength="60" lengthAdjust="spacingAndGlyphs">cial expression</text><text x="806" y="1029" font-size="7.8" textLength="40" lengthAdjust="spacingAndGlyphs">recognition</text>
<rect class="or" x="738" y="1013" width="58" height="10" rx="2"/><text x="740" y="1020.8" font-size="8.8" textLength="54" lengthAdjust="spacingAndGlyphs">face detection</text>
</g>

<!-- Articles D -->
<g>
<text x="939" y="630" font-size="12" font-weight="bold" textLength="44" lengthAdjust="spacingAndGlyphs" style="fill:#111">Articles</text>
<text x="987" y="630" font-size="7.5" font-weight="bold" textLength="100" lengthAdjust="spacingAndGlyphs" style="fill:#2b54c8">[show bookmarked (0)]</text>
<line x1="990" y1="631.5" x2="1084" y2="631.5" stroke="#2b54c8" stroke-width=".6"/>

<rect class="cb" x="942" y="650" width="7" height="7" rx="1.5"/>
<text x="958" y="652" font-size="5" textLength="13" lengthAdjust="spacingAndGlyphs" style="fill:#5aaa5a">↑ 10</text>
<text class="ti" x="978" y="656" textLength="211" lengthAdjust="spacingAndGlyphs">A Moving Object Detection Algorithm in</text>
<text class="ti" x="939" y="669" textLength="128" lengthAdjust="spacingAndGlyphs">Binocular Stereo Vision</text>
<text class="au" x="939" y="682" textLength="132" lengthAdjust="spacingAndGlyphs">Z H Jia, L J Yang, C E Zhang</text>
<text class="vn" x="1081" y="682" textLength="114" lengthAdjust="spacingAndGlyphs">(ICAIE 2009: PROCEEDINGS</text>
<text class="vn" x="939" y="693" textLength="201" lengthAdjust="spacingAndGlyphs">OF THE 2009 INTERNATIONAL CONFERENCE ON</text>
<text class="vn" x="939" y="703.5" textLength="253" lengthAdjust="spacingAndGlyphs">ARTIFICIALINTELLIGENCE AND EDUCATION, VOLS 1 AND 2,</text>
<text class="vn" x="939" y="714" textLength="44" lengthAdjust="spacingAndGlyphs">2009-01-01)</text>
<rect class="tag" x="942" y="722" width="99" height="10"/><text class="tg" x="945" y="729.5" textLength="93" lengthAdjust="spacingAndGlyphs">moving object detection</text>
<rect class="tag" x="1043" y="722" width="95" height="10"/><text class="tg" x="1046" y="729.5" textLength="89" lengthAdjust="spacingAndGlyphs">binocular stereo vision</text>
<rect class="tag" x="942" y="733" width="68" height="10"/><text class="tg" x="945" y="740.5" textLength="62" lengthAdjust="spacingAndGlyphs">computer vision</text>
<rect class="tag" x="1013" y="733" width="59" height="10"/><text class="tg" x="1016" y="740.5" textLength="53" lengthAdjust="spacingAndGlyphs">stereo image</text>
<rect class="tag" x="1074" y="733" width="56" height="10"/><text class="tg" x="1077" y="740.5" textLength="50" lengthAdjust="spacingAndGlyphs">stereo vision</text>
<rect class="tag" x="942" y="744" width="68" height="10"/><text class="tg" x="945" y="751.5" textLength="62" lengthAdjust="spacingAndGlyphs">object detection</text>
<text class="mono" x="939" y="764" font-size="7.5" textLength="214" lengthAdjust="spacingAndGlyphs">Moving object detection is an important ...</text>

<rect x="957" y="777" width="16" height="7" rx="2" fill="#f08a30"/>
<text x="960" y="782.5" font-size="4.5" textLength="10" lengthAdjust="spacingAndGlyphs" style="fill:#fff">new</text>
<rect class="cb" x="942" y="782" width="7" height="7" rx="1.5"/>
<text class="ti" x="975" y="787" textLength="203" lengthAdjust="spacingAndGlyphs">Multi-object detection and tracking by</text>
<text class="ti" x="939" y="799" textLength="69" lengthAdjust="spacingAndGlyphs">stereo vision</text>
<text class="au" x="939" y="813" textLength="175" lengthAdjust="spacingAndGlyphs">L Cai, L He, Y R Xu, Y M Zhao, X Yang</text>
<text class="vn" x="1124" y="813" textLength="44" lengthAdjust="spacingAndGlyphs">(PATTERN</text>
<text class="vn" x="939" y="824" textLength="113" lengthAdjust="spacingAndGlyphs">RECOGNITION, 2010-01-01)</text>
<rect class="tag" x="942" y="831" width="56" height="10"/><text class="tg" x="945" y="838.5" textLength="50" lengthAdjust="spacingAndGlyphs">stereo vision</text>
<rect class="tag" x="1001" y="831" width="102" height="10"/><text class="tg" x="1004" y="838.5" textLength="96" lengthAdjust="spacingAndGlyphs">kernel density estimation</text>
<rect class="tag" x="942" y="842" width="138" height="10"/><text class="tg" x="945" y="849.5" textLength="132" lengthAdjust="spacingAndGlyphs">multi-object detection and tracking</text>
<rect class="tag" x="1083" y="842" width="45" height="10"/><text class="tg" x="1086" y="849.5" textLength="39" lengthAdjust="spacingAndGlyphs">clustering</text>
<rect class="tag" x="942" y="853" width="85" height="10"/><text class="tg" x="945" y="860.5" textLength="79" lengthAdjust="spacingAndGlyphs">stereo vision system</text>
<rect class="tag" x="1030" y="853" width="37" height="10"/><text class="tg" x="1033" y="860.5" textLength="31" lengthAdjust="spacingAndGlyphs">tracking</text>
<rect class="tag" x="1070" y="853" width="70" height="10"/><text class="tg" x="1073" y="860.5" textLength="64" lengthAdjust="spacingAndGlyphs">object detection</text>
<text class="mono" x="939" y="873" font-size="7.5" textLength="213" lengthAdjust="spacingAndGlyphs">This paper presents a new stereo vision-...</text>

<text x="958" y="891" font-size="5" textLength="10" lengthAdjust="spacingAndGlyphs" style="fill:#5aaa5a">↑ 8</text>
<rect class="cb" x="942" y="892" width="7" height="7" rx="1.5"/>
<text class="ti" x="973" y="897" textLength="220" lengthAdjust="spacingAndGlyphs">Object recognition with stereo vision and</text>
<text class="ti" x="939" y="909.5" textLength="101" lengthAdjust="spacingAndGlyphs">geometric hashing</text>
<text class="au" x="939" y="923" textLength="101" lengthAdjust="spacingAndGlyphs">H van Dijck, F van der</text>
<text class="vn" x="1049" y="923" textLength="147" lengthAdjust="spacingAndGlyphs">(PATTERN RECOGNITION LETTERS,</text>
<text class="vn" x="939" y="934" textLength="48" lengthAdjust="spacingAndGlyphs">2003-01-01)</text>
<rect class="tag" x="942" y="941" width="77" height="10"/><text class="tg" x="945" y="948.5" textLength="71" lengthAdjust="spacingAndGlyphs">geometric hashing</text>
<rect class="tag" x="1023" y="941" width="90" height="10"/><text class="tg" x="1026" y="948.5" textLength="84" lengthAdjust="spacingAndGlyphs">3d object recognition</text>
<rect class="tag" x="1115" y="941" width="57" height="10"/><text class="tg" x="1118" y="948.5" textLength="51" lengthAdjust="spacingAndGlyphs">stereo vision</text>
<rect class="tag" x="942" y="952" width="51" height="10"/><text class="tg" x="945" y="959.5" textLength="45" lengthAdjust="spacingAndGlyphs">recognition</text>
<rect class="tag" x="995" y="952" width="62" height="10"/><text class="tg" x="998" y="959.5" textLength="56" lengthAdjust="spacingAndGlyphs">discrimination</text>
<rect class="tag" x="1059" y="952" width="78" height="10"/><text class="tg" x="1062" y="959.5" textLength="72" lengthAdjust="spacingAndGlyphs">object recognition</text>
<rect class="tag" x="1139" y="952" width="41" height="10"/><text class="tg" x="1142" y="959.5" textLength="35" lengthAdjust="spacingAndGlyphs">features</text>
<text class="mono" x="939" y="972" font-size="7.5" textLength="213" lengthAdjust="spacingAndGlyphs">In this paper we demonstrate a method to...</text>

<rect class="cb" x="942" y="989" width="7" height="7" rx="1.5"/>
<text class="ti" x="957" y="994" textLength="226" lengthAdjust="spacingAndGlyphs">Vision-based global localization for mobile</text>
<text class="ti" x="939" y="1008" textLength="258" lengthAdjust="spacingAndGlyphs">robots with hybrid maps of objects and spatial</text>
<text class="ti" x="939" y="1021" textLength="49" lengthAdjust="spacingAndGlyphs">layouts</text>
<text class="au" x="939" y="1033" textLength="144" lengthAdjust="spacingAndGlyphs">S Park, S Kim, M Park, S K Park</text>
<text class="vn" x="1093" y="1033" textLength="62" lengthAdjust="spacingAndGlyphs">(INFORMATION</text>
<text class="vn" x="939" y="1044" textLength="101" lengthAdjust="spacingAndGlyphs">SCIENCES, 2009-01-01)</text>
<rect class="tag" x="942" y="1052" width="51" height="10"/><text class="tg" x="945" y="1059.5" textLength="45" lengthAdjust="spacingAndGlyphs">hybrid map</text>
<rect class="tag" x="997" y="1052" width="77" height="10"/><text class="tg" x="1000" y="1059.5" textLength="71" lengthAdjust="spacingAndGlyphs">global localization</text>
<rect class="tag" x="1077" y="1052" width="57" height="10"/><text class="tg" x="1080" y="1059.5" textLength="51" lengthAdjust="spacingAndGlyphs">mobile robot</text>
<rect class="tag" x="1137" y="1052" width="56" height="10"/><text class="tg" x="1140" y="1059.5" textLength="50" lengthAdjust="spacingAndGlyphs">stereo vision</text>
<rect class="tag" x="942" y="1063" width="76" height="10"/><text class="tg" x="945" y="1070.5" textLength="70" lengthAdjust="spacingAndGlyphs">object recognition</text>
<rect class="tag" x="1021" y="1063" width="51" height="10"/><text class="tg" x="1024" y="1070.5" textLength="45" lengthAdjust="spacingAndGlyphs">recognition</text>
<rect class="tag" x="1074" y="1063" width="23" height="10"/><text class="tg" x="1077" y="1070.5" textLength="17" lengthAdjust="spacingAndGlyphs">robot</text>
<rect class="tag" x="1099" y="1063" width="68" height="10"/><text class="tg" x="1102" y="1070.5" textLength="62" lengthAdjust="spacingAndGlyphs">representation</text>
<rect class="tag" x="942" y="1074" width="63" height="10"/><text class="tg" x="945" y="1081.5" textLength="57" lengthAdjust="spacingAndGlyphs">visual features</text>
<rect class="tag" x="1008" y="1074" width="45" height="10"/><text class="tg" x="1011" y="1081.5" textLength="39" lengthAdjust="spacingAndGlyphs">modeling</text>
<rect class="tag" x="1056" y="1074" width="37" height="10"/><text class="tg" x="1059" y="1081.5" textLength="31" lengthAdjust="spacingAndGlyphs">features</text>
<rect class="tag" x="1096" y="1074" width="52" height="10"/><text class="tg" x="1099" y="1081.5" textLength="46" lengthAdjust="spacingAndGlyphs">localization</text>
<text class="mono" x="939" y="1094" font-size="7.5" textLength="213" lengthAdjust="spacingAndGlyphs">This paper presents a novel vision-based...</text>
<line x1="957" y1="1108" x2="968" y2="1108" stroke="#ccc" stroke-width="1"/>
</g>

<!-- Caption -->
<g class="capg">
<text class="cap" x="53" y="1155" textLength="1169" lengthAdjust="spacingAndGlyphs">Fig. 2.  An example of interactive intent modeling with the IntentRadar system. (A) The initial visualization</text>
<text class="cap" x="53" y="1188" textLength="1169" lengthAdjust="spacingAndGlyphs">in response to a typed query “computer vision.” The visualization shows keywords relevant to the estimated</text>
<text class="cap" x="53" y="1220" textLength="1169" lengthAdjust="spacingAndGlyphs">search intent and keywords for alternative future intents. (B) The user wants to learn more about “object</text>
<text class="cap" x="53" y="1253" textLength="1169" lengthAdjust="spacingAndGlyphs">recognition” and “perception,” and gives feedback by moving those keywords toward the center of the radar</text>
<text class="cap" x="53" y="1285" textLength="1169" lengthAdjust="spacingAndGlyphs">(movements are shown as small red arrows) and clicking the center of the radar. (C) The user receives a new</text>
<text class="cap" x="53" y="1318" textLength="1169" lengthAdjust="spacingAndGlyphs">estimate of the present and future intents and an updated document set (omitted in the figure for brevity).</text>
<text class="cap" x="53" y="1350" textLength="1169" lengthAdjust="spacingAndGlyphs">The user wants to learn about “stereo vision” and “tracking” and gives feedback by moving the keywords</text>
<text class="cap" x="53" y="1383" textLength="1169" lengthAdjust="spacingAndGlyphs">closer to the center of the radar and clicking the center of the radar. (D) The user again receives an updated</text>
<text class="cap" x="53" y="1415" textLength="508" lengthAdjust="spacingAndGlyphs">intent estimate and an updated document list.</text>
</g>
</svg>
</body></html>
